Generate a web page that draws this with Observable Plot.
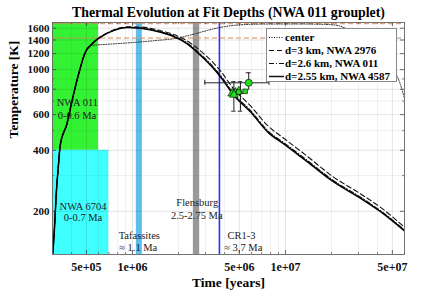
<!DOCTYPE html>
<html><head><meta charset="utf-8">
<script src="https://cdn.jsdelivr.net/npm/d3@7"></script>
<script src="https://cdn.jsdelivr.net/npm/@observablehq/plot@0.6"></script>
<style>
body{margin:0;background:#fff;}
#wrap{position:relative;width:440px;height:290px;}
#legend{position:absolute;left:266px;top:28px;width:131px;height:54px;background:#fff;border:1px solid #8a8a8a;box-sizing:border-box;font:bold 11px "Liberation Serif",serif;color:#000;}
#legend .row{position:absolute;left:0;height:13px;line-height:13px;white-space:nowrap;}
#legend svg{position:absolute;left:1px;top:0;}
#legend span{position:absolute;left:18px;top:0;}
</style></head><body><div id="wrap"></div>
<script>
// ---- data ----
const timeTicks = [5e5, 1e6, 5e6, 1e7, 5e7];
const tempTicks = [200, 400, 600, 800, 1000, 1200, 1400, 1600];
const timeMinor = [3e5,4e5,6e5,7e5,8e5,9e5,2e6,3e6,4e6,6e6,7e6,8e6,9e6,2e7,3e7,4e7,6e7];
const tempMinor = [300, 500, 700, 900];
const xDomain = [3.0e5, 6.0e7];
const yDomain = [122.5, 1708];

// series: [time (yr), temperature (K)]
const center = [[3.0e5,122],[3.02e5,128],[3.09e5,165],[3.17e5,240],[3.28e5,337],[3.37e5,424],[3.73e5,541],[4.03e5,704],[4.45e5,954],[4.92e5,1219],[5.5e5,1318],[7e5,1335],[1e6,1360],[1.4e6,1390],[1.86e6,1422],[2.3e6,1470],[2.8e6,1530],[3.4e6,1590],[4e6,1630],[5e6,1662],[7e6,1678],[1.2e7,1680],[1.8e7,1672],[2.2e7,1652],[2.5e7,1590],[3.2e7,1450],[4e7,1250],[4.8e7,1060],[5.45e7,905],[5.57e7,868],[6e7,720]];
const d3km = [[3.0e5,122],[3.02e5,128],[3.09e5,165],[3.17e5,240],[3.28e5,337],[3.37e5,424],[3.73e5,541],[4.03e5,704],[4.45e5,954],[4.92e5,1219],[5.45e5,1345],[6.17e5,1452],[7.5e5,1567],[9.23e5,1625],[1.13e6,1622],[1.53e6,1556],[1.86e6,1490],[2.28e6,1385],[2.79e6,1235],[3.4e6,1075],[3.78e6,980],[4.61e6,800],[5.94e6,660],[7.64e6,530],[1e7,452],[1.4e7,372],[2e7,300],[3.12e7,243],[4.23e7,208],[6e7,167]];
const d26km = [[3.0e5,122],[3.02e5,128],[3.09e5,165],[3.17e5,240],[3.28e5,337],[3.37e5,424],[3.73e5,541],[4.03e5,704],[4.45e5,954],[4.92e5,1219],[5.45e5,1342],[6.17e5,1447],[7.5e5,1560],[9.23e5,1615],[1.13e6,1605],[1.53e6,1537],[1.86e6,1466],[2.28e6,1353],[2.79e6,1190],[3.4e6,1025],[3.78e6,932],[4.61e6,758],[5.94e6,626],[7.64e6,501],[1e7,430],[1.4e7,355],[2e7,288],[3.12e7,234],[4.23e7,200],[6e7,162]];
const d255km = [[3.0e5,122],[3.02e5,128],[3.09e5,165],[3.17e5,240],[3.28e5,337],[3.37e5,424],[3.73e5,541],[4.03e5,704],[4.45e5,954],[4.92e5,1219],[5.45e5,1341],[6.17e5,1445],[7.5e5,1558],[9.23e5,1612],[1.13e6,1600],[1.53e6,1529],[1.86e6,1456],[2.28e6,1341],[2.79e6,1174],[3.4e6,1010],[3.78e6,917],[4.61e6,746],[5.94e6,616],[7.64e6,493],[1e7,424],[1.4e7,350],[2e7,284],[3.12e7,231],[4.23e7,198],[6e7,160]];

const meltLines = [1685, 1432];

// measured points
const circlePt = [{t: 5.75e6, T: 861, tLo: 2.97e6, tHi: 7.8e6, TLo: 790, THi: 965}];
const squarePts = [{t: 5.45e6, T: 782}, {t: 4.95e6, T: 775}];
const trianglePts = [{t: 4.48e6, T: 763}, {t: 4.71e6, T: 771}, {t: 4.95e6, T: 783}, {t: 4.6e6, T: 752}];
const vErrBars = [{t: 4.6e6, lo: 624, hi: 872}, {t: 5.08e6, lo: 624, hi: 872}];

// age regions
const regions = [
  {name: "NWA 011", x1: 3.0e5, x2: 6e5, y1: 400, y2: 1708, fill: "#33f233"},
  {name: "NWA 6704", x1: 3.0e5, x2: 7e5, y1: 122.5, y2: 400, fill: "#40ffff"}
];
const bands = [
  {name: "Tafassites", x1: 1.06e6, x2: 1.16e6, fill: "#5cbeea"},
  {name: "Flensburg", x1: 2.5e6, x2: 2.75e6, fill: "#999999"}
];
const cr13 = [3.7e6];

const labels = [
  {t: 4.36e5, T: 685, text: "NWA 011"},
  {t: 4.33e5, T: 590, text: "0-0.6 Ma"},
  {t: 4.75e5, T: 210, text: "NWA 6704"},
  {t: 4.75e5, T: 186, text: "0-0.7 Ma"},
  {t: 1.108e6, T: 151, text: "Tafassites"},
  {t: 1.09e6, T: 132, text: "≈ 1.1 Ma"},
  {t: 2.65e6, T: 221, text: "Flensburg"},
  {t: 2.63e6, T: 190, text: "2.5-2.75 Ma"},
  {t: 5.16e6, T: 151, text: "CR1-3"},
  {t: 5.3e6, T: 132, text: "≈ 3,7 Ma"}
];

// ---- helpers for pixel offsets in data space ----
const W = 440, H = 290, mL = 52, mR = 36, mT = 22, mB = 36;
const xDec = (W - mL - mR) / Math.log10(xDomain[1] / xDomain[0]);
const yDec = (H - mT - mB) / Math.log10(yDomain[1] / yDomain[0]);
const xOff = (t, px) => t * Math.pow(10, px / xDec);
const yOff = (v, px) => v * Math.pow(10, px / yDec);

const toObj = arr => arr.map(([t, T]) => ({t, T}));
const fmtX = d => d.toExponential(0).replace(/e\+(\d)$/, "e+0$1");

const chart = Plot.plot({
  width: W, height: H,
  marginLeft: mL, marginRight: mR, marginTop: mT, marginBottom: mB,
  style: {fontFamily: "'Liberation Serif', serif", background: "#fff", overflow: "visible"},
  x: {type: "log", domain: xDomain, axis: null},
  y: {type: "log", domain: yDomain, axis: null},
  marks: [
    Plot.rect(regions, {x1: "x1", x2: "x2", y1: "y1", y2: "y2", fill: "fill"}),
    Plot.rect(bands, {x1: "x1", x2: "x2", y1: yDomain[0], y2: yDomain[1], fill: "fill"}),
    Plot.ruleX(cr13, {stroke: "#2f2fff", strokeWidth: 1.6}),
    // grid
    Plot.ruleX(timeMinor, {stroke: "#000", strokeOpacity: 0.08, strokeWidth: 0.8}),
    Plot.ruleY(tempMinor, {stroke: "#000", strokeOpacity: 0.08, strokeWidth: 0.8}),
    Plot.ruleX(timeTicks, {stroke: "#000", strokeOpacity: 0.13, strokeWidth: 0.8}),
    Plot.ruleY(tempTicks, {stroke: "#000", strokeOpacity: 0.13, strokeWidth: 0.8}),
    // melting lines
    Plot.ruleY(meltLines, {stroke: "#d4895a", strokeWidth: 1, strokeDasharray: "5,3"}),
    // curves
    Plot.line(toObj(center), {x: "t", y: "T", stroke: "#222", strokeWidth: 1, strokeDasharray: "1,1.5", curve: "monotone-x", clip: true}),
    Plot.line(toObj(d3km), {x: "t", y: "T", stroke: "#111", strokeWidth: 1.1, strokeDasharray: "5,3", curve: "monotone-x", clip: true}),
    Plot.line(toObj(d26km), {x: "t", y: "T", stroke: "#111", strokeWidth: 1.1, strokeDasharray: "5,2,1,2", curve: "monotone-x", clip: true}),
    Plot.line(toObj(d255km), {x: "t", y: "T", stroke: "#000", strokeWidth: 1.5, curve: "monotone-x", clip: true}),
    // error bars
    Plot.ruleX(vErrBars, {x: "t", y1: "lo", y2: "hi", stroke: "#222", strokeWidth: 1}),
    Plot.ruleY(vErrBars, {y: "lo", x1: d => xOff(d.t, -2.2), x2: d => xOff(d.t, 2.2), stroke: "#222", strokeWidth: 1}),
    Plot.ruleY(vErrBars, {y: "hi", x1: d => xOff(d.t, -2.2), x2: d => xOff(d.t, 2.2), stroke: "#222", strokeWidth: 1}),
    Plot.ruleY(circlePt, {y: "T", x1: "tLo", x2: "tHi", stroke: "#222", strokeWidth: 1}),
    Plot.ruleX(circlePt, {x: "tLo", y1: d => yOff(d.T, -2.5), y2: d => yOff(d.T, 2.5), stroke: "#222", strokeWidth: 1}),
    Plot.ruleX(circlePt, {x: "tHi", y1: d => yOff(d.T, -2.5), y2: d => yOff(d.T, 2.5), stroke: "#222", strokeWidth: 1}),
    Plot.ruleX(circlePt, {x: "t", y1: "TLo", y2: "THi", stroke: "#222", strokeWidth: 1}),
    Plot.ruleY(circlePt, {y: "THi", x1: d => xOff(d.t, -2.5), x2: d => xOff(d.t, 2.5), stroke: "#222", strokeWidth: 1}),
    // markers
    Plot.dot(trianglePts, {x: "t", y: "T", symbol: "triangle", r: 3.2, fill: "#22dd22", stroke: "#000", strokeWidth: 0.6}),
    Plot.dot(squarePts, {x: "t", y: "T", symbol: "square", r: 2.6, fill: "#22dd22", stroke: "#000", strokeWidth: 0.6}),
    Plot.dot(circlePt, {x: "t", y: "T", symbol: "circle", r: 3.6, fill: "#22dd22", stroke: "#000", strokeWidth: 0.6}),
    // region labels
    Plot.text(labels, {x: "t", y: "T", text: "text", fontSize: 10.5, fill: "#222"}),
    // inward ticks
    Plot.ruleX(timeTicks, {y1: yDomain[0], y2: yOff(yDomain[0], 4), stroke: "#333", strokeWidth: 0.7}),
    Plot.ruleX(timeTicks, {y1: yDomain[1], y2: yOff(yDomain[1], -4), stroke: "#333", strokeWidth: 0.7}),
    Plot.ruleX(timeMinor, {y1: yDomain[0], y2: yOff(yDomain[0], 2), stroke: "#333", strokeWidth: 0.6}),
    Plot.ruleX(timeMinor, {y1: yDomain[1], y2: yOff(yDomain[1], -2), stroke: "#333", strokeWidth: 0.6}),
    Plot.ruleY(tempTicks, {x1: xDomain[0], x2: xOff(xDomain[0], 4), stroke: "#333", strokeWidth: 0.7}),
    Plot.ruleY(tempTicks, {x1: xDomain[1], x2: xOff(xDomain[1], -4), stroke: "#333", strokeWidth: 0.7}),
    Plot.ruleY(tempMinor, {x1: xDomain[0], x2: xOff(xDomain[0], 2), stroke: "#333", strokeWidth: 0.6}),
    Plot.ruleY(tempMinor, {x1: xDomain[1], x2: xOff(xDomain[1], -2), stroke: "#333", strokeWidth: 0.6}),
    Plot.frame({stroke: "#666", strokeWidth: 0.9}),
    // tick labels
    Plot.text(timeTicks, {x: d => d, frameAnchor: "bottom", lineAnchor: "middle", dy: 13, text: fmtX, fontSize: 12, fontWeight: "bold", fill: "#111"}),
    Plot.text(tempTicks, {y: d => d, frameAnchor: "left", textAnchor: "end", dx: -3, text: d => String(d), fontSize: 11, fontWeight: "bold", fill: "#111"}),
    // titles
    Plot.text(["Thermal Evolution at Fit Depths (NWA 011 grouplet)"], {frameAnchor: "top", lineAnchor: "middle", dy: -10, fontSize: 13.8, fontWeight: "bold", fill: "#000"}),
    Plot.text(["Time [years]"], {frameAnchor: "bottom", lineAnchor: "middle", dy: 28, fontSize: 13.5, fontWeight: "bold", fill: "#000"}),
    Plot.text(["Temperature [K]"], {frameAnchor: "left", dx: -39, rotate: -90, fontSize: 13.5, fontWeight: "bold", fill: "#000"})
  ]
});
document.getElementById("wrap").appendChild(chart);

// legend
const legendItems = [
  {label: "center", dash: "1,1.5", w: 1},
  {label: "d=3 km, NWA 2976", dash: "5,3", w: 1.1},
  {label: "d=2.6 km, NWA 011", dash: "5,2,1,2", w: 1.1},
  {label: "d=2.55 km, NWA 4587", dash: "", w: 1.5}
];
const legendRows = [1.5, 15, 27.5, 41];
const leg = document.createElement("div");
leg.id = "legend";
legendItems.forEach((it, i) => {
  const row = document.createElement("div");
  row.className = "row";
  row.style.top = legendRows[i] + "px";
  row.innerHTML = `<svg width="17" height="13"><line x1="1" x2="16" y1="6.5" y2="6.5" stroke="#111" stroke-width="${it.w}" ${it.dash ? `stroke-dasharray="${it.dash}"` : ""}/></svg><span>${it.label}</span>`;
  leg.appendChild(row);
});
document.getElementById("wrap").appendChild(leg);
</script>
</body></html>
